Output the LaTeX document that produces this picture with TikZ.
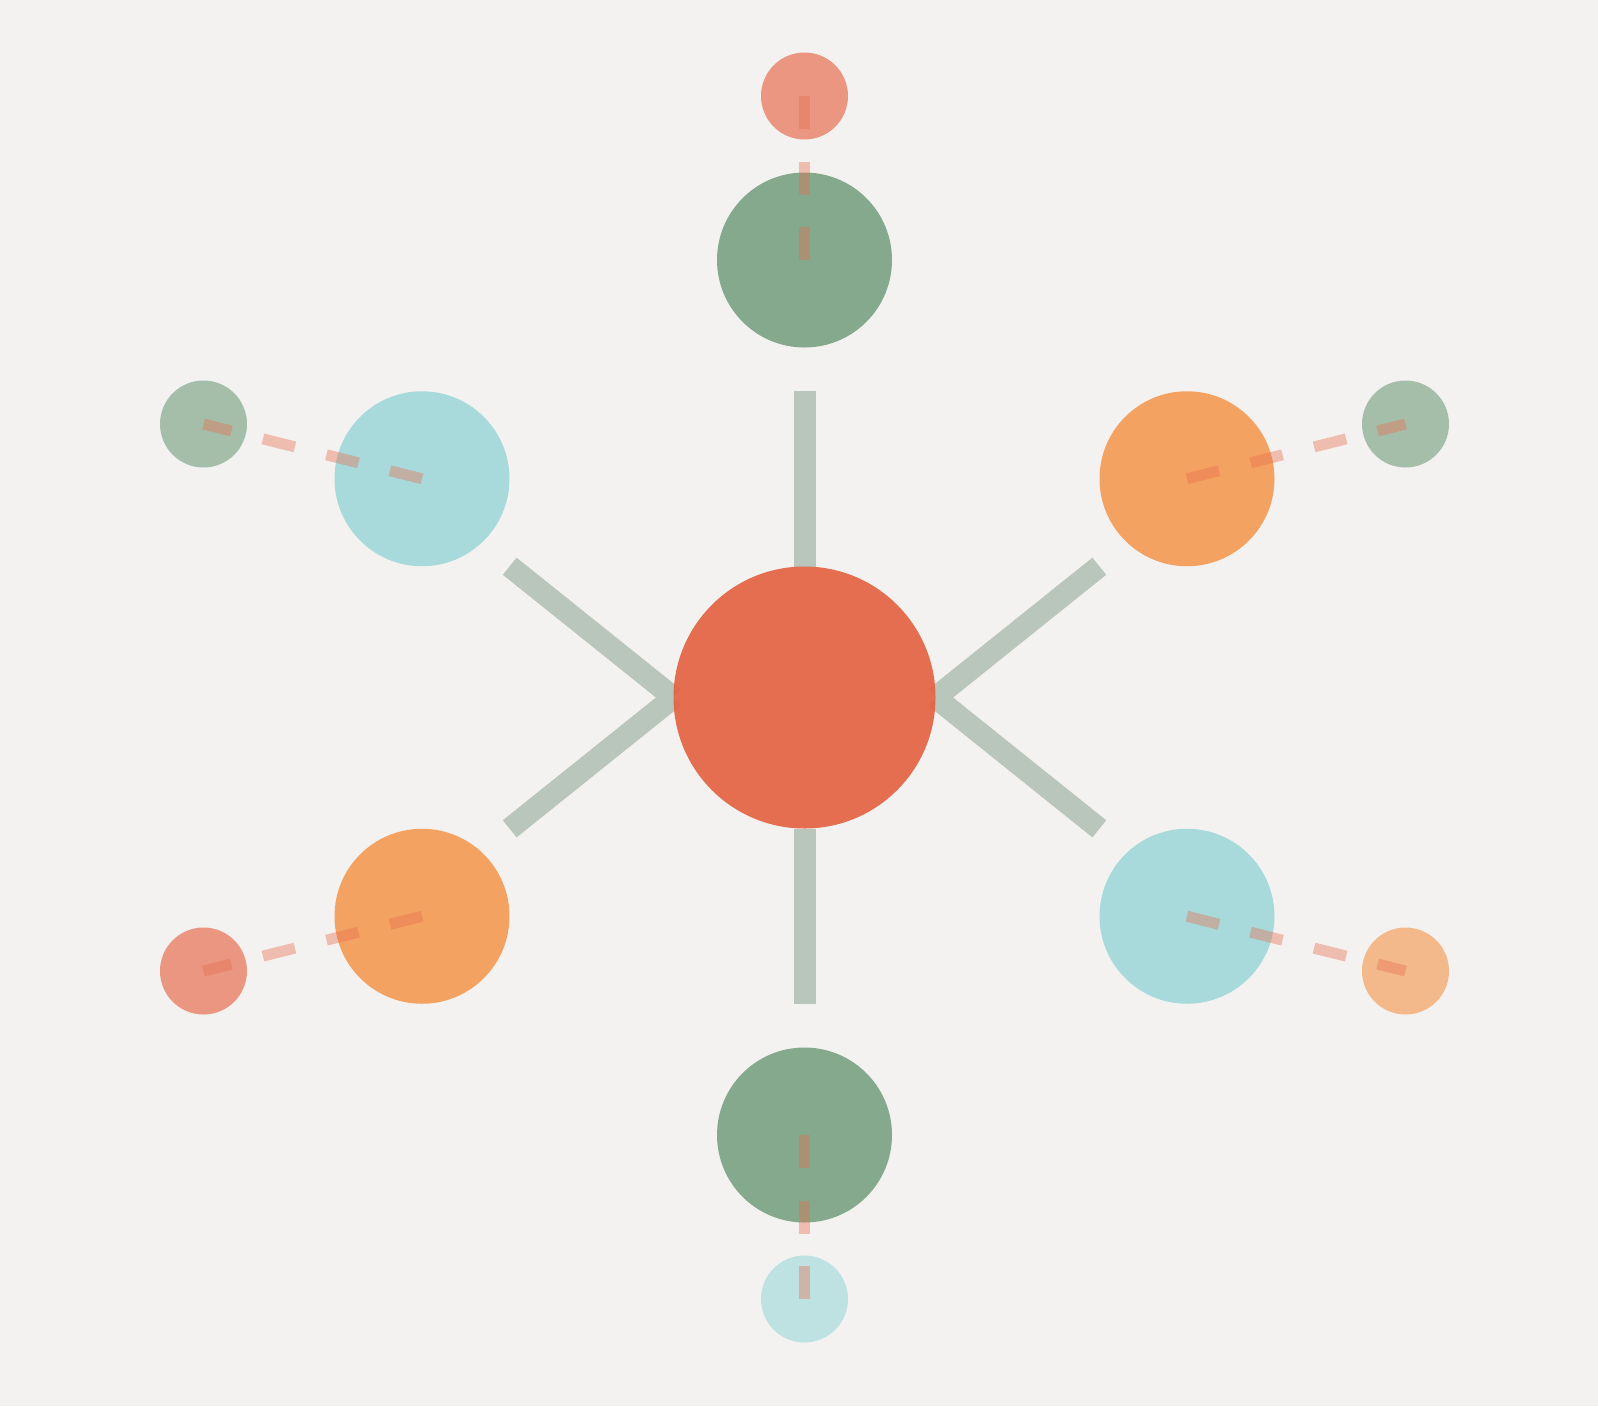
\documentclass[tikz,border=0pt]{standalone}
\usetikzlibrary{calc}
\definecolor{bgc}{HTML}{F4F2F0}
\definecolor{cred}{HTML}{E76F51}
\definecolor{chub}{HTML}{E3603E}
\definecolor{cgreen}{HTML}{84A98C}
\definecolor{ccyan}{HTML}{A8DADC}
\definecolor{corange}{HTML}{F4A261}
\definecolor{clink}{HTML}{B8C6BB}
\begin{document}
\begin{tikzpicture}[x=1pt,y=-1pt,
  hub/.style={circle, fill=chub, fill opacity=0.9, minimum size=262pt, inner sep=0pt},
  sat/.style={circle, minimum size=175pt, inner sep=0pt},
  leaf/.style={circle, minimum size=87pt, inner sep=0pt, fill opacity=0.7},
  link/.style={draw=clink, line width=22pt},
  tie/.style={draw=cred, line width=11pt, draw opacity=0.4, dash pattern=on 33pt off 32.5pt}]
\fill[bgc] (0,0) rectangle (1598,1406);
\useasboundingbox (0,0) rectangle (1598,1406);
% satellites
\node[sat, fill=cgreen]  (s1) at (804.5,260) {};
\node[sat, fill=ccyan]   (s2) at (422,478.75) {};
\node[sat, fill=corange] (s3) at (422,916.25) {};
\node[sat, fill=cgreen]  (s4) at (804.5,1135) {};
\node[sat, fill=ccyan]   (s5) at (1187,916.25) {};
\node[sat, fill=corange] (s6) at (1187,478.75) {};
% leaves
\node[leaf, fill=cred]    (l1) at (804.5,96) {};
\node[leaf, fill=cgreen]  (l2) at (203.5,424) {};
\node[leaf, fill=cred]    (l3) at (203.5,971) {};
\node[leaf, fill=ccyan]   (l4) at (804.5,1299) {};
\node[leaf, fill=corange] (l5) at (1405.5,971) {};
\node[leaf, fill=cgreen]  (l6) at (1405.5,424) {};
% hub anchors used by the links (hub is drawn after the links)
\coordinate (cn) at (804.5,566.5);
\coordinate (cs) at (804.5,828.5);
\coordinate (cw) at (673.5,697.5);
\coordinate (ce) at (935.5,697.5);
% free ends of the hub links
\coordinate (e2) at (509.7,566.2);
\coordinate (e3) at (509.7,828.8);
\coordinate (e5) at (1099.3,828.8);
\coordinate (e6) at (1099.3,566.2);
% hub links
\draw[link, shorten >=43.5pt] (cn) -- (s1.south);
\draw[link, shorten >=43.5pt] (cs) -- (s4.north);
\draw[link] (cw) -- (e2);
\draw[link] (cw) -- (e3);
\draw[link] (ce) -- (e5);
\draw[link] (ce) -- (e6);
% hub
\node[hub] (c) at (804.5,697.5) {};
% dashed ties
\draw[tie] (s1.center) -- (l1.center);
\draw[tie] (s2.center) -- (l2.center);
\draw[tie] (s3.center) -- (l3.center);
\draw[tie] (s4.center) -- (l4.center);
\draw[tie] (s5.center) -- (l5.center);
\draw[tie] (s6.center) -- (l6.center);
\end{tikzpicture}
\end{document}
